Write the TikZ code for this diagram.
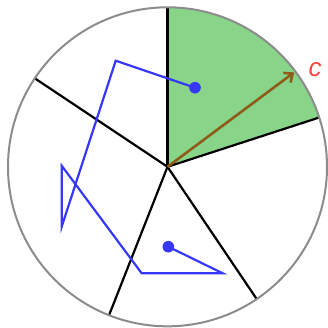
\documentclass[tikz,border=0pt]{standalone}
\usepackage{fontspec}
\setsansfont{Liberation Sans}
\usepackage{tikz}
\usetikzlibrary{arrows.meta}
\definecolor{cellgreen}{RGB}{136,212,136}
\definecolor{walkblue}{RGB}{55,55,250}
\definecolor{vecbrown}{RGB}{140,92,24}
\definecolor{labelred}{RGB}{255,70,70}

\begin{document}
\begin{tikzpicture}[x=1pt,y=1pt,>={Straight Barb[length=7pt,width=12pt]}]
  \useasboundingbox (-167.5,-160.2) rectangle (160.5,166.8);
  \coordinate (O) at (0,0);
  % highlighted cell
  \fill[cellgreen] (O) -- (18:160) arc[start angle=18,end angle=90,radius=160] -- cycle;
  % cell borders
  \foreach \a/\name in {90/N,18/E,-56/SE,-111.5/SW,146.3/W}{
    \coordinate (b\name) at (\a:160);
    \draw[line width=2.2pt] (O) -- (b\name);
  }
  \draw[gray!90,line width=2pt] (O) circle[radius=159.5];
  % walk
  \coordinate (wStart) at (27.5,79.1);
  \coordinate (w1) at (-51.8,106.1);
  \coordinate (w2) at (-105.8,-59.9);
  \coordinate (w3) at (-105.8,1.1);
  \coordinate (w4) at (-25.8,-106.5);
  \coordinate (w5) at (55.2,-106.5);
  \coordinate (wEnd) at (0.8,-79.9);
  \draw[walkblue,line width=2.2pt,line join=miter] (wStart) -- (w1) -- (w2) -- (w3) -- (w4) -- (w5) -- (wEnd);
  \fill[walkblue] (wStart) circle[radius=5.8];
  \fill[walkblue] (wEnd) circle[radius=5.8];
  % vector
  \coordinate (cTip) at (36.7:158);
  \draw[->,vecbrown,line width=2.6pt] (O) -- (cTip);
  \node[labelred,font=\sffamily\itshape\fontsize{26}{28}\selectfont] (cLabel) at (147.5,97) {c};
\end{tikzpicture}
\end{document}
